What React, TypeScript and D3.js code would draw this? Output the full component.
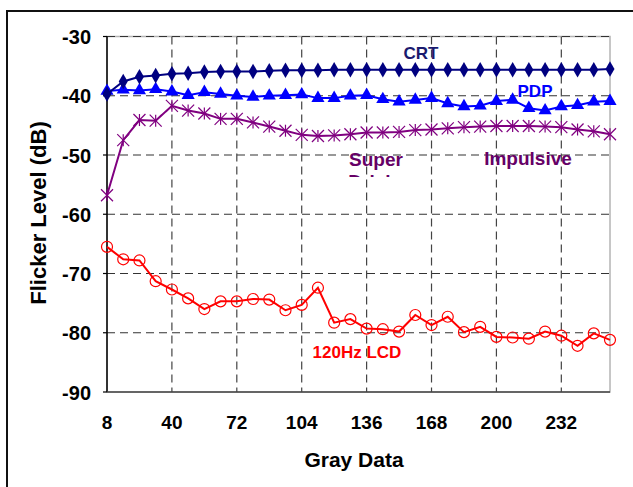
import * as d3 from "d3";

// gray levels 8..256, step 8
const grayData = [
  8, 16, 24, 32, 40, 48, 56, 64, 72, 80, 88, 96, 104, 112, 120, 128,
  136, 144, 152, 160, 168, 176, 184, 192, 200, 208, 216, 224, 232, 240, 248, 256,
];

const crt = [
  -39.7, -37.6, -36.8, -36.6, -36.3, -36.2, -36.0, -35.9, -35.9, -35.9, -35.8, -35.7, -35.7, -35.7, -35.6, -35.6,
  -35.6, -35.6, -35.6, -35.6, -35.6, -35.6, -35.6, -35.6, -35.6, -35.6, -35.6, -35.6, -35.6, -35.6, -35.6, -35.5,
];

const pdp = [
  -39.2, -39.0, -39.1, -38.9, -39.3, -39.9, -39.4, -39.7, -40.0, -40.2, -40.0, -39.9, -39.8, -40.4, -40.4, -40.0,
  -39.9, -40.6, -41.0, -40.7, -40.4, -41.3, -41.8, -41.7, -40.9, -40.7, -42.1, -42.5, -41.8, -41.6, -41.0, -40.9,
];

const superImpulsive = [
  -56.8, -47.5, -44.1, -44.2, -41.7, -42.5, -43.0, -43.9, -43.9, -44.5, -45.2, -45.9, -46.6, -46.8, -46.7, -46.5,
  -46.2, -46.2, -46.1, -45.8, -45.7, -45.5, -45.3, -45.2, -45.1, -45.1, -45.1, -45.2, -45.3, -45.7, -46.0, -46.5,
];

const lcd120 = [
  -65.5, -67.6, -67.8, -71.3, -72.7, -74.2, -76.0, -74.7, -74.7, -74.3, -74.4, -76.2, -75.3, -72.4, -78.3, -77.7,
  -79.3, -79.4, -79.8, -77.0, -78.7, -77.3, -79.9, -79.0, -80.7, -80.8, -81.0, -79.8, -80.5, -82.2, -80.1, -81.2,
];

const xTicks = [8, 40, 72, 104, 136, 168, 200, 232];
const yTicks = [-30, -40, -50, -60, -70, -80, -90];

const FONT = "Arial, 'Liberation Sans', sans-serif";

const W = 633;
const H = 487;
const plot = { left: 107, right: 610, top: 36.5, bottom: 392 };

export default function App() {
  const x = d3.scaleLinear().domain([8, 256]).range([plot.left, plot.right]);
  const y = d3.scaleLinear().domain([-90, -30]).range([plot.bottom, plot.top]);

  const line = d3
    .line<number>()
    .x((_, i) => x(grayData[i]))
    .y((d) => y(d));

  const diamond = d3.symbol(d3.symbolDiamond, 70)();
  const triangle = d3.symbol(d3.symbolTriangle, 75)();

  const star = (cx: number, cy: number, key: number) => {
    const r = 6;
    return (
      <g key={key} stroke="#800080" strokeWidth={1.2}>
        <line x1={cx - r} y1={cy - r} x2={cx + r} y2={cy + r} />
        <line x1={cx - r} y1={cy + r} x2={cx + r} y2={cy - r} />
        <line x1={cx} y1={cy - r} x2={cx} y2={cy + r} />
      </g>
    );
  };

  return (
    <svg
      width={W}
      height={H}
      style={{ position: "absolute", left: 0, top: 0, background: "#fff" }}
      fontFamily={FONT}
      fontWeight="bold"
    >
      <defs>
        <clipPath id="drivingClip">
          <rect x={330} y={160} width={100} height={17} />
        </clipPath>
      </defs>

      {/* figure frame */}
      <rect x={7} y={11} width={700} height={600} fill="none" stroke="#111" strokeWidth={2} />

      {/* plot frame */}
      <rect
        x={plot.left}
        y={plot.top}
        width={plot.right - plot.left}
        height={plot.bottom - plot.top}
        fill="none"
        stroke="#b4b4b4"
        strokeWidth={1.5}
      />

      {/* grid */}
      {yTicks.slice(0, -1).map((t) => (
        <line
          key={"gy" + t}
          x1={plot.left}
          x2={plot.right}
          y1={y(t)}
          y2={y(t)}
          stroke="#333"
          strokeWidth={1.2}
          strokeDasharray="8,5"
        />
      ))}
      {xTicks.slice(1).map((t) => (
        <line
          key={"gx" + t}
          x1={x(t)}
          x2={x(t)}
          y1={plot.top}
          y2={plot.bottom}
          stroke="#444"
          strokeWidth={1.2}
          strokeDasharray="8,5"
        />
      ))}

      {/* axes */}
      <line x1={plot.left} x2={plot.left} y1={plot.top} y2={plot.bottom} stroke="#000" strokeWidth={1.5} />
      <line x1={plot.left} x2={plot.right} y1={plot.bottom} y2={plot.bottom} stroke="#444" strokeWidth={1.5} />
      {yTicks.map((t) => (
        <line key={"ty" + t} x1={plot.left - 4} x2={plot.left} y1={y(t)} y2={y(t)} stroke="#000" strokeWidth={1.2} />
      ))}

      {/* tick labels */}
      {yTicks.map((t) => (
        <text key={"ly" + t} x={91} y={y(t) + 7.5} fontSize={20} textAnchor="end" fill="#000">
          {t}
        </text>
      ))}
      {xTicks.map((t) => (
        <text key={"lx" + t} x={x(t)} y={429} fontSize={19} textAnchor="middle" fill="#000">
          {t}
        </text>
      ))}

      {/* axis titles */}
      <text x={354} y={467} fontSize={21} textAnchor="middle" fill="#000">
        Gray Data
      </text>
      <text
        transform={`translate(46,213) rotate(-90)`}
        fontSize={22}
        textAnchor="middle"
        fill="#000"
      >
        Flicker Level (dB)
      </text>

      {/* 120Hz LCD */}
      <path d={line(lcd120) ?? ""} fill="none" stroke="#ff0000" strokeWidth={2} />
      {lcd120.map((v, i) => (
        <circle key={"c" + i} cx={x(grayData[i])} cy={y(v)} r={5.5} fill="none" stroke="#ff0000" strokeWidth={1.2} />
      ))}

      {/* Super Impulsive */}
      <path d={line(superImpulsive) ?? ""} fill="none" stroke="#800080" strokeWidth={2} />
      {superImpulsive.map((v, i) => star(x(grayData[i]), y(v), i))}

      {/* PDP */}
      <path d={line(pdp) ?? ""} fill="none" stroke="#0000ff" strokeWidth={2} />
      {pdp.map((v, i) => (
        <path key={"t" + i} d={triangle ?? ""} transform={`translate(${x(grayData[i])},${y(v)})`} fill="#0000ff" />
      ))}

      {/* CRT */}
      <path d={line(crt) ?? ""} fill="none" stroke="#000080" strokeWidth={2} />
      {crt.map((v, i) => (
        <path key={"d" + i} d={diamond ?? ""} transform={`translate(${x(grayData[i])},${y(v)})`} fill="#000080" />
      ))}

      {/* series labels */}
      <text x={421} y={59} fontSize={17} textAnchor="middle" fill="#1a1a6e">
        CRT
      </text>
      <text x={535} y={97} fontSize={17} textAnchor="middle" fill="#0000ff">
        PDP
      </text>
      <text x={376} y={166} fontSize={19} textAnchor="middle" fill="#660066">
        Super
      </text>
      <text x={381} y={188} fontSize={19} textAnchor="middle" fill="#660066" clipPath="url(#drivingClip)">
        Driving
      </text>
      <text x={528} y={165} fontSize={19} textAnchor="middle" fill="#660066">
        Impulsive
      </text>
      <text x={357} y={358} fontSize={17} textAnchor="middle" fill="#ff0000">
        120Hz LCD
      </text>
    </svg>
  );
}
